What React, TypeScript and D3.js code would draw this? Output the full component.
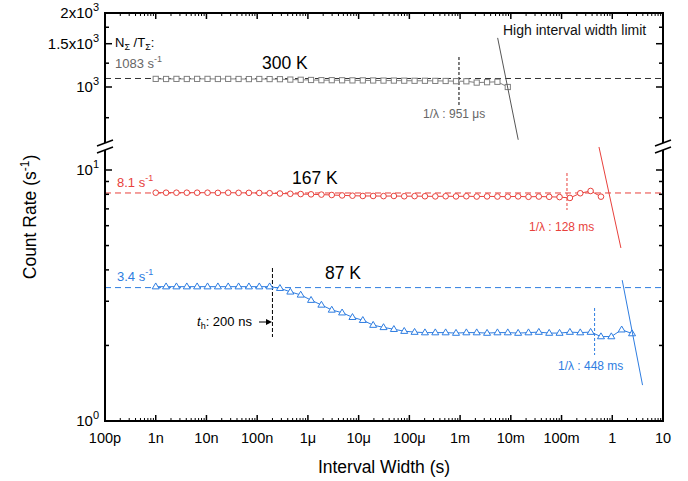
import React from "react";
import * as d3 from "d3";

// Interval widths (bins) in ns
const widthsNs = [
  1, 1.6, 2.56, 4.1, 6.55, 10.5, 16.8, 26.8, 43, 68.7, 110, 176, 281, 450, 721,
  1153, 1845, 2952, 4722, 7556, 12089, 19343, 30949, 49518, 79228, 126765,
  202824, 324519, 519230, 830767, 1329228, 2126765, 3402824, 5444518, 8711229,
  13937966, 22300745, 35681192, 57089907, 91343852, 146150163, 233840261,
  374144419, 598631070, 957809713, 1532495540, 2451992865,
];

// 300 K (s^-1)
const grayRate = [
  1079, 1078, 1079, 1078, 1079, 1079, 1078, 1079, 1078, 1077, 1078, 1077, 1076,
  1072, 1070, 1068, 1066, 1066, 1065, 1064, 1064, 1063, 1062, 1062, 1061, 1060,
  1060, 1059, 1058, 1056, 1055, 1042, 1046, 1050, 1000,
];
// 167 K
const redRate = [
  8.12, 8.12, 8.12, 8.12, 8.12, 8.12, 8.11, 8.12, 8.11, 8.11, 8.1, 8.08, 8.06,
  8.04, 8.02, 8.0, 7.98, 7.95, 7.92, 7.9, 7.88, 7.88, 7.87, 7.88, 7.86, 7.87,
  7.86, 7.85, 7.86, 7.85, 7.86, 7.84, 7.85, 7.84, 7.83, 7.85, 7.82, 7.84, 7.82,
  7.8, 7.74, 8.08, 8.25, 7.83,
];
// 87 K
const blueRate = [
  3.43, 3.43, 3.43, 3.43, 3.43, 3.43, 3.43, 3.43, 3.43, 3.43, 3.43, 3.43, 3.38,
  3.27, 3.18, 3.03, 2.9, 2.77, 2.7, 2.59, 2.52, 2.41, 2.36, 2.32, 2.28, 2.26,
  2.25, 2.25, 2.25, 2.24, 2.25, 2.25, 2.24, 2.25, 2.25, 2.24, 2.25, 2.26, 2.24,
  2.24, 2.26, 2.25, 2.26, 2.17, 2.17, 2.31, 2.23,
];

const grayLevel = 1083;
const redLevel = 8.1;
const blueLevel = 3.4;

const grayInvLambda = 951e-6;
const redInvLambda = 0.128;
const blueInvLambda = 0.448;
const tHold = 200e-9;

// high interval width limit lines (rate ~ N/T)
const grayLimit = [[5.5e-3, 1584], [1.4e-2, 610]];
const redLimit = [[0.547, 12.35], [1.48, 4.89]];
const blueLimit = [[1.57, 3.64], [3.95, 1.39]];

const xTickValues = [1e-10, 1e-9, 1e-8, 1e-7, 1e-6, 1e-5, 1e-4, 1e-3, 1e-2, 1e-1, 1, 10];
const xTickLabels = ["100p", "1n", "10n", "100n", "1μ", "10μ", "100μ", "1m", "10m", "100m", "1", "10"];

const upperMajor = [1000, 1500, 2000];
const upperLabels = [["10", "3"], ["1.5x10", "3"], ["2x10", "3"]];
const upperMinor = [750, 1250, 1750];
const lowerMajor = [1, 10];
const lowerLabels = [["10", "0"], ["10", "1"]];
const lowerMinor = [2, 3, 4, 5, 6, 7, 8, 9];

const RED = "#e8413c";
const BLUE = "#2e7de1";
const GRAY = "#808080";
const FONT = "'Liberation Sans', Arial, sans-serif";

export default function App() {
  const L = 105, R = 663, T = 13, B = 421;
  const breakTop = 143, breakBot = 150;
  const x = d3.scaleLog().domain([1e-10, 10]).range([L, R]);
  const yHi = d3.scaleLog().domain([1000, 2000]).range([87, 13]);
  const yLo = d3.scaleLog().domain([1, 10]).range([B, 170]);

  const xs = widthsNs.map((v) => v * 1e-9);
  const grayPts = grayRate.map((v, i) => [x(xs[i]), yHi(v)] as [number, number]);
  const redPts = redRate.map((v, i) => [x(xs[i]), yLo(v)] as [number, number]);
  const bluePts = blueRate.map((v, i) => [x(xs[i]), yLo(v)] as [number, number]);
  const line = d3.line<[number, number]>();

  const xMinor: number[] = [];
  for (let e = -10; e < 1; e++) for (let k = 2; k <= 9; k++) xMinor.push(k * Math.pow(10, e));

  const tri = (cx: number, cy: number) => {
    const s = 3.7;
    return `M${cx},${cy - s} L${cx + s * 0.95},${cy + s * 0.6} L${cx - s * 0.95},${cy + s * 0.6} Z`;
  };

  const supLabel = (base: string, exp: string, xx: number, yy: number, key: string) => (
    <text key={key} x={xx} y={yy + 5} textAnchor="end" fontSize={15} fontFamily={FONT} fill="#000">
      {base}
      <tspan fontSize={11} dy={-7}>{exp}</tspan>
    </text>
  );

  const slash = (cx: number, cy: number, key: string) => (
    <line key={key} x1={cx - 8} y1={cy + 3} x2={cx + 8} y2={cy - 3} stroke="#000" strokeWidth={1.5} />
  );

  return (
    <svg width={688} height={481} style={{ position: "absolute", left: 0, top: 0, background: "#fff" }}>
      {/* dashed reference lines */}
      <line x1={L} x2={R} y1={yHi(grayLevel)} y2={yHi(grayLevel)} stroke="#333" strokeWidth={1} strokeDasharray="6,4" />
      <line x1={L} x2={R} y1={yLo(redLevel)} y2={yLo(redLevel)} stroke={RED} strokeWidth={1} strokeDasharray="6,4" />
      <line x1={L} x2={R} y1={yLo(blueLevel)} y2={yLo(blueLevel)} stroke={BLUE} strokeWidth={1} strokeDasharray="6,4" />

      {/* 1/lambda and t_h markers */}
      <line x1={x(grayInvLambda)} x2={x(grayInvLambda)} y1={57} y2={105} stroke="#000" strokeWidth={1} strokeDasharray="3,2" />
      <line x1={x(redInvLambda)} x2={x(redInvLambda)} y1={173} y2={210} stroke={RED} strokeWidth={1} strokeDasharray="3,2" />
      <line x1={x(blueInvLambda)} x2={x(blueInvLambda)} y1={308} y2={355} stroke={BLUE} strokeWidth={1} strokeDasharray="3,2" />
      <line x1={x(tHold)} x2={x(tHold)} y1={268} y2={337} stroke="#000" strokeWidth={1} strokeDasharray="4,2" />

      {/* series */}
      <path d={line(grayPts) || ""} fill="none" stroke={GRAY} strokeWidth={1} />
      {grayPts.map(([px, py], i) => (
        <rect key={"g" + i} x={px - 2.6} y={py - 2.6} width={5.2} height={5.2} fill="#fff" stroke={GRAY} strokeWidth={1} />
      ))}
      <path d={line(redPts) || ""} fill="none" stroke={RED} strokeWidth={1} />
      {redPts.map(([px, py], i) => (
        <circle key={"r" + i} cx={px} cy={py} r={2.8} fill="#fff" stroke={RED} strokeWidth={1} />
      ))}
      <path d={line(bluePts) || ""} fill="none" stroke={BLUE} strokeWidth={1} />
      {bluePts.map(([px, py], i) => (
        <path key={"b" + i} d={tri(px, py)} fill="#fff" stroke={BLUE} strokeWidth={1} />
      ))}

      {/* limit lines */}
      <line x1={x(grayLimit[0][0])} y1={yHi(grayLimit[0][1])} x2={x(grayLimit[1][0])} y2={yHi(grayLimit[1][1])} stroke="#555" strokeWidth={1} />
      <line x1={x(redLimit[0][0])} y1={yLo(redLimit[0][1])} x2={x(redLimit[1][0])} y2={yLo(redLimit[1][1])} stroke={RED} strokeWidth={1} />
      <line x1={x(blueLimit[0][0])} y1={yLo(blueLimit[0][1])} x2={x(blueLimit[1][0])} y2={yLo(blueLimit[1][1])} stroke={BLUE} strokeWidth={1} />

      {/* frame */}
      <line x1={L} x2={R} y1={T} y2={T} stroke="#000" strokeWidth={2} />
      <line x1={L - 1} x2={R + 1} y1={B} y2={B} stroke="#000" strokeWidth={2} />
      <line x1={L} x2={L} y1={T - 1} y2={breakTop} stroke="#000" strokeWidth={2} />
      <line x1={L} x2={L} y1={breakBot} y2={B} stroke="#000" strokeWidth={2} />
      <line x1={R} x2={R} y1={T - 1} y2={breakTop} stroke="#000" strokeWidth={2} />
      <line x1={R} x2={R} y1={breakBot} y2={B} stroke="#000" strokeWidth={2} />
      {slash(L, breakTop, "s1")}
      {slash(L, breakBot, "s2")}
      {slash(R, breakTop, "s3")}
      {slash(R, breakBot, "s4")}

      {/* x ticks */}
      {xTickValues.map((v, i) => (
        <g key={"xt" + i}>
          <line x1={x(v)} x2={x(v)} y1={B} y2={B - 6} stroke="#000" strokeWidth={1.5} />
          <line x1={x(v)} x2={x(v)} y1={T} y2={T + 6} stroke="#000" strokeWidth={1.5} />
          <text x={x(v)} y={B + 22} textAnchor="middle" fontSize={14.5} fontFamily={FONT} fill="#000">
            {xTickLabels[i]}
          </text>
        </g>
      ))}
      {xMinor.map((v, i) => (
        <g key={"xm" + i}>
          <line x1={x(v)} x2={x(v)} y1={B} y2={B - 3} stroke="#000" strokeWidth={1} />
          <line x1={x(v)} x2={x(v)} y1={T} y2={T + 3} stroke="#000" strokeWidth={1} />
        </g>
      ))}

      {/* y ticks */}
      {upperMajor.map((v, i) => (
        <g key={"um" + i}>
          <line x1={L} x2={L + 7} y1={yHi(v)} y2={yHi(v)} stroke="#000" strokeWidth={1.5} />
          <line x1={R} x2={R - 7} y1={yHi(v)} y2={yHi(v)} stroke="#000" strokeWidth={1.5} />
          {supLabel(upperLabels[i][0], upperLabels[i][1], L - 6, yHi(v), "ul" + i)}
        </g>
      ))}
      {upperMinor.map((v, i) => (
        <g key={"un" + i}>
          <line x1={L} x2={L + 4} y1={yHi(v)} y2={yHi(v)} stroke="#000" strokeWidth={1.5} />
          <line x1={R} x2={R - 4} y1={yHi(v)} y2={yHi(v)} stroke="#000" strokeWidth={1.5} />
        </g>
      ))}
      {lowerMajor.map((v, i) => (
        <g key={"lm" + i}>
          <line x1={L} x2={L + 7} y1={yLo(v)} y2={yLo(v)} stroke="#000" strokeWidth={1.5} />
          <line x1={R} x2={R - 7} y1={yLo(v)} y2={yLo(v)} stroke="#000" strokeWidth={1.5} />
          {supLabel(lowerLabels[i][0], lowerLabels[i][1], L - 6, yLo(v), "ll" + i)}
        </g>
      ))}
      {lowerMinor.map((v, i) => (
        <g key={"ln" + i}>
          <line x1={L} x2={L + 4} y1={yLo(v)} y2={yLo(v)} stroke="#000" strokeWidth={1.5} />
          <line x1={R} x2={R - 4} y1={yLo(v)} y2={yLo(v)} stroke="#000" strokeWidth={1.5} />
        </g>
      ))}

      {/* axis titles */}
      <text x={(L + R) / 2} y={473} textAnchor="middle" fontSize={17.5} fontFamily={FONT} fill="#000">
        Interval Width (s)
      </text>
      <text transform={`translate(36,${(T + B) / 2}) rotate(-90)`} textAnchor="middle" fontSize={17.5} fontFamily={FONT} fill="#000">
        Count Rate (s<tspan fontSize={12} dy={-7}>-1</tspan><tspan dy={7}>)</tspan>
      </text>

      {/* annotations */}
      <text x={115} y={47} fontSize={13} fontFamily={FONT} fill="#000">
        N<tspan fontSize={9} dy={3}>Σ</tspan><tspan dy={-3}> /T</tspan><tspan fontSize={9} dy={3}>Σ</tspan><tspan dy={-3}>:</tspan>
      </text>
      <text x={115} y={68} fontSize={13} fontFamily={FONT} fill="#666">
        1083 s<tspan fontSize={9} dy={-6}>-1</tspan>
      </text>
      <text x={262} y={69} fontSize={17.5} fontFamily={FONT} fill="#000">300 K</text>
      <text x={423} y={118} fontSize={12} fontFamily={FONT} fill="#666">1/λ : 951 μs</text>
      <text x={503} y={35} fontSize={14} fontFamily={FONT} fill="#111">High interval width limit</text>

      <text x={117} y={187} fontSize={13} fontFamily={FONT} fill={RED}>
        8.1 s<tspan fontSize={9} dy={-6}>-1</tspan>
      </text>
      <text x={292} y={184} fontSize={17.5} fontFamily={FONT} fill="#000">167 K</text>
      <text x={529} y={231} fontSize={12} fontFamily={FONT} fill={RED}>1/λ : 128 ms</text>

      <text x={117} y={281} fontSize={13} fontFamily={FONT} fill={BLUE}>
        3.4 s<tspan fontSize={9} dy={-6}>-1</tspan>
      </text>
      <text x={325} y={279} fontSize={17.5} fontFamily={FONT} fill="#000">87 K</text>
      <text x={558} y={370} fontSize={12} fontFamily={FONT} fill={BLUE}>1/λ : 448 ms</text>

      <text x={197} y={326} fontSize={13} fontFamily={FONT} fill="#000">
        <tspan fontStyle="italic">t</tspan><tspan fontSize={9} dy={3}>h</tspan><tspan dy={-3}>: 200 ns</tspan>
      </text>
      <line x1={259} x2={268} y1={322} y2={322} stroke="#000" strokeWidth={1} />
      <path d="M272,322 L266,319 L266,325 Z" fill="#000" />
    </svg>
  );
}
